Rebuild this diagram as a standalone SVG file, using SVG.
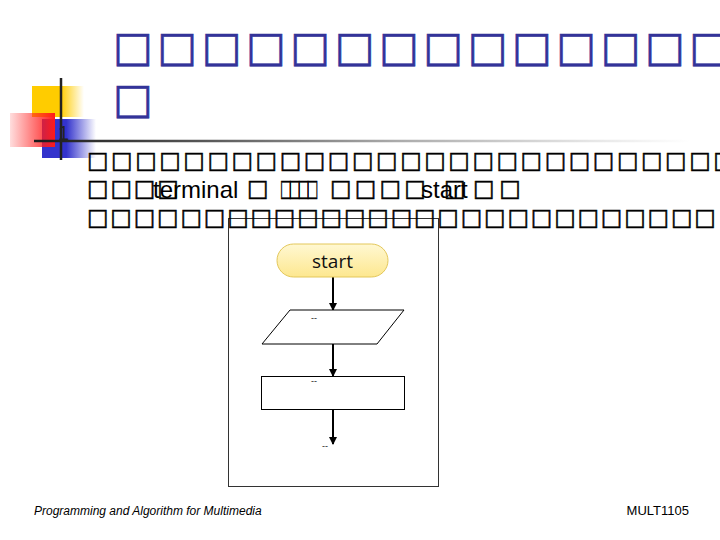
<svg xmlns="http://www.w3.org/2000/svg" width="720" height="540" viewBox="0 0 720 540">
<style>
.title{font-family:"DejaVu Sans",sans-serif;font-size:42px;fill:#333399;stroke:#333399;stroke-width:0.6}
.box{font-family:"DejaVu Sans",sans-serif;font-size:23px;fill:#000;stroke:#000;stroke-width:0.5}
.lat{font-family:"Liberation Sans",Arial,sans-serif;font-size:24px;fill:#000}
.dash{font-family:"Liberation Sans",Arial,sans-serif;font-size:9px;fill:#222}
.foot{font-family:"Liberation Sans",Arial,sans-serif;fill:#000}
.edge{stroke:#000;stroke-width:2;fill:none;marker-end:url(#arr)}
.shape{fill:#fff;stroke:#000;stroke-width:1}
</style>
<defs>
<linearGradient id="gy" x1="0" y1="0" x2="1" y2="0">
<stop offset="0" stop-color="#ffcc00"/><stop offset="0.55" stop-color="#ffcc00"/><stop offset="1" stop-color="#ffcc00" stop-opacity="0"/>
</linearGradient>
<linearGradient id="gb" x1="0" y1="0" x2="1" y2="0">
<stop offset="0" stop-color="#3333cc"/><stop offset="0.45" stop-color="#3333cc"/><stop offset="1" stop-color="#3333cc" stop-opacity="0"/>
</linearGradient>
<linearGradient id="gr" x1="0" y1="0" x2="1" y2="0">
<stop offset="0" stop-color="#ff2020" stop-opacity="0.15"/><stop offset="1" stop-color="#ff1a1a"/>
</linearGradient>
<linearGradient id="gl" gradientUnits="userSpaceOnUse" x1="34" y1="0" x2="690" y2="0">
<stop offset="0" stop-color="#1a1a1a"/><stop offset="0.25" stop-color="#555"/><stop offset="0.55" stop-color="#aaa"/><stop offset="0.85" stop-color="#e6e6e6"/><stop offset="1" stop-color="#fff"/>
</linearGradient>
<linearGradient id="gt" x1="0" y1="0" x2="0" y2="1">
<stop offset="0" stop-color="#fff8d2"/><stop offset="1" stop-color="#fde78f"/>
</linearGradient>
<marker id="arr" markerWidth="8" markerHeight="8" refX="7" refY="4" orient="auto" markerUnits="userSpaceOnUse">
<path d="M0,0 L8,4 L0,8 Z" fill="#000"/>
</marker>
</defs>
<rect width="720" height="540" fill="#fff"/>

<g id="logo">
<rect x="32" y="86" width="52" height="31" fill="url(#gy)"/>
<rect x="42" y="119" width="54" height="39" fill="url(#gb)"/>
<rect x="10" y="113" width="45" height="34" fill="url(#gr)"/>
<line x1="61" y1="78" x2="61" y2="160" stroke="#222" stroke-width="2.5"/>
<line x1="34" y1="141" x2="720" y2="141" stroke="url(#gl)" stroke-width="2.5"/>
<text x="58" y="140" font-family="Liberation Sans, Arial, sans-serif" font-size="20" fill="#222">1</text>
</g>

<g id="title">
<text class="title" x="113" y="61" textLength="616" lengthAdjust="spacing">□□□□□□□□□□□□□□</text>
<text class="title" x="113" y="113">□</text>
</g>

<g id="frame">
<rect x="228.5" y="218.5" width="210" height="268" fill="#fff" stroke="#333" stroke-width="1"/>
</g>

<g id="body">
<text class="box" x="87" y="168" textLength="648" lengthAdjust="spacing">□□<tspan font-weight="bold">□□</tspan>□□□□□□□□□□□□□□□□□□□□□□□</text>
<text class="box" x="87" y="196" textLength="92" lengthAdjust="spacing">□□□□</text>
<text class="lat" x="153" y="198">terminal</text>
<text class="box" x="247" y="196">□</text>
<text class="box" transform="translate(280,196) scale(0.55,1)" x="0" y="0" textLength="70" lengthAdjust="spacing">□□□□</text>
<text class="box" x="330" y="196" textLength="96" lengthAdjust="spacing">□□□□</text>
<text class="lat" x="421" y="198">start</text>
<text class="box" x="444" y="196">□</text>
<text class="box" x="473" y="196" textLength="48" lengthAdjust="spacing">□□</text>
<text class="box" x="87" y="225" textLength="629" lengthAdjust="spacing">□□□□□□□□□□□□□□□□□□□□□□□□□□□</text>
</g>

<g id="connectors">
<line class="edge" x1="333" y1="277" x2="333" y2="310"/>
<line class="edge" x1="333" y1="344" x2="333" y2="376"/>
<line class="edge" x1="333" y1="410" x2="333" y2="444"/>
</g>

<g id="n-start">
<rect x="277" y="244" width="111" height="33" rx="16.5" fill="url(#gt)" stroke="#e3c75a" stroke-width="1"/>
<text x="332.5" y="268" text-anchor="middle" font-family="Open Sans, sans-serif" font-size="19" fill="#111">start</text>
</g>
<g id="n-input">
<polygon class="shape" points="290,310 404,310 377,344 262,344"/>
<text class="dash" x="311" y="321">--</text>
</g>
<g id="n-process">
<rect class="shape" x="261.5" y="376.5" width="143" height="33"/>
<text class="dash" x="311" y="384">--</text>
</g>
<g id="n-end">
<text class="dash" x="322" y="449">--</text>
</g>

<g id="footer">
<text class="foot" x="34" y="515" font-size="12" font-style="italic">Programming and Algorithm for Multimedia</text>
<text class="foot" x="689" y="515" font-size="13" text-anchor="end">MULT1105</text>
</g>
</svg>
